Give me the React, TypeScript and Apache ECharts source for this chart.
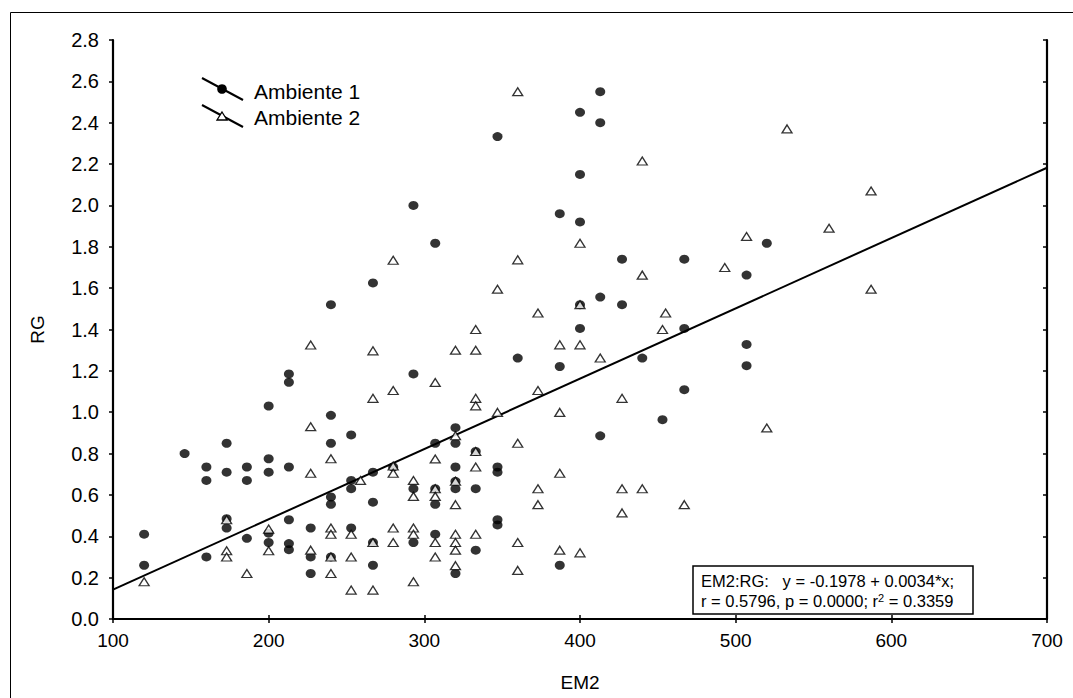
import React, { useEffect, useRef } from "react";
import * as echarts from "echarts";

// EM2 (x) and RG (y) values
const ambiente1: [number, number][] = [
  [120, 0.41], [120, 0.26], [146, 0.8], [160, 0.735], [160, 0.67], [160, 0.3],
  [173, 0.85], [173, 0.71], [173, 0.485], [173, 0.44], [186, 0.735], [186, 0.67],
  [186, 0.39], [200, 1.03], [200, 0.775], [200, 0.71], [200, 0.415], [200, 0.37],
  [213, 1.185], [213, 1.145], [213, 0.735], [213, 0.48], [213, 0.365], [213, 0.335],
  [227, 0.44], [227, 0.3], [227, 0.22], [240, 1.52], [240, 0.985], [240, 0.85],
  [240, 0.59], [240, 0.555], [240, 0.3], [253, 0.89], [253, 0.67], [253, 0.63],
  [253, 0.44], [267, 1.625], [267, 0.71], [267, 0.565], [267, 0.37], [267, 0.26],
  [280, 0.735], [293, 2.0], [293, 1.185], [293, 0.63], [293, 0.37], [307, 1.817],
  [307, 0.85], [307, 0.63], [307, 0.555], [307, 0.41], [320, 0.925], [320, 0.85],
  [320, 0.735], [320, 0.666], [320, 0.63], [320, 0.22], [333, 0.81], [333, 0.63],
  [333, 0.333], [347, 2.333], [347, 0.735], [347, 0.71], [347, 0.48], [347, 0.455],
  [360, 1.262], [387, 1.96], [387, 1.221], [387, 0.26], [400, 2.45], [400, 2.15],
  [400, 1.92], [400, 1.52], [400, 1.405], [413, 2.55], [413, 2.4], [413, 1.557],
  [413, 0.886], [427, 1.74], [427, 1.52], [440, 1.262], [453, 0.964], [467, 1.74],
  [467, 1.405], [467, 1.109], [507, 1.663], [507, 1.328], [507, 1.225], [520, 1.817],
];

const ambiente2: [number, number][] = [
  [120, 0.18], [173, 0.48], [173, 0.33], [173, 0.3], [186, 0.22], [200, 0.435],
  [200, 0.33], [227, 1.325], [227, 0.93], [227, 0.705], [227, 0.333], [240, 0.775],
  [240, 0.44], [240, 0.41], [240, 0.3], [240, 0.22], [253, 0.41], [253, 0.3],
  [253, 0.14], [259, 0.67], [267, 1.297], [267, 1.067], [267, 0.37], [267, 0.14],
  [280, 1.735], [280, 1.105], [280, 0.74], [280, 0.705], [280, 0.44], [280, 0.37],
  [293, 0.67], [293, 0.593], [293, 0.44], [293, 0.41], [293, 0.18], [307, 1.144],
  [307, 0.774], [307, 0.63], [307, 0.593], [307, 0.37], [307, 0.3], [320, 1.3],
  [320, 0.886], [320, 0.666], [320, 0.553], [320, 0.41], [320, 0.37], [320, 0.333],
  [320, 0.258], [333, 1.4], [333, 1.3], [333, 1.067], [333, 1.031], [333, 0.81],
  [333, 0.735], [333, 0.41], [347, 1.595], [347, 0.999], [360, 2.55], [360, 1.737],
  [360, 0.85], [360, 0.37], [360, 0.235], [373, 1.48], [373, 1.105], [373, 0.63],
  [373, 0.553], [387, 1.326], [387, 0.999], [387, 0.705], [387, 0.333], [400, 1.817],
  [400, 1.52], [400, 1.326], [400, 0.32], [413, 1.262], [427, 1.067], [427, 0.63],
  [427, 0.513], [440, 2.215], [440, 1.663], [440, 0.63], [453, 1.4], [455, 1.48],
  [467, 0.553], [493, 1.7], [507, 1.85], [520, 0.924], [533, 2.37], [560, 1.89],
  [587, 2.07], [587, 1.595],
];

// Regression EM2:RG  y = -0.1978 + 0.0034*x
const intercept = -0.1978;
const slope = 0.0034;
const fitRange = [100, 700];

const xMin = 100, xMax = 700, xStep = 100;
const yMin = 0, yMax = 2.8, yStep = 0.2;

const seriesNames = ["Ambiente 1", "Ambiente 2"];
const eqLine1 = "EM2:RG:   y = -0.1978 + 0.0034*x;";
const eqLine2 = "r = 0.5796, p = 0.0000; r{sup|2} = 0.3359";

const FONT = "'Liberation Sans', Arial, sans-serif";

export default function App() {
  const ref = useRef<HTMLDivElement>(null);
  useEffect(() => {
    if (!ref.current) return;
    const chart = echarts.init(ref.current, undefined, { renderer: "svg" });
    const fitData = fitRange.map((x) => [x, intercept + slope * x]);
    const axisLine = { show: true, lineStyle: { color: "#000", width: 2.2 } };
    const tick = (inside: boolean) => ({ show: true, inside, length: 4, lineStyle: { color: "#000", width: 1.5 } });
    chart.setOption({
      animation: false,
      backgroundColor: "#fff",
      textStyle: { fontFamily: FONT },
      grid: { left: 113, right: 26, top: 40, bottom: 79, containLabel: false },
      xAxis: [
        {
          type: "value", min: xMin, max: xMax, interval: xStep,
          name: "EM2", nameLocation: "middle", nameGap: 54,
          nameTextStyle: { color: "#000", fontSize: 19, fontFamily: FONT },
          axisLine, axisTick: tick(true),
          axisLabel: { color: "#000", fontSize: 19, margin: 12, fontFamily: FONT },
          splitLine: { show: false },
        },
        {
          type: "value", position: "top", min: xMin, max: xMax, interval: xStep,
          axisLine, axisTick: tick(true),
          axisLabel: { show: false },
          splitLine: { show: false },
        },
      ],
      yAxis: [
        {
          type: "value", min: yMin, max: yMax, interval: yStep,
          name: "RG", nameLocation: "middle", nameGap: 66, nameRotate: 90,
          nameTextStyle: { color: "#000", fontSize: 19, fontFamily: FONT },
          axisLine, axisTick: tick(false),
          axisLabel: { color: "#000", fontSize: 20, margin: 14, fontFamily: FONT, formatter: (v: number) => v.toFixed(1) },
          splitLine: { show: false },
        },
        {
          type: "value", position: "right", min: yMin, max: yMax, interval: yStep,
          axisLine, axisTick: tick(true),
          axisLabel: { show: false },
          splitLine: { show: false },
        },
      ],
      series: [
        {
          name: "Fit", type: "line", data: fitData, showSymbol: false, symbol: "none",
          lineStyle: { color: "#000", width: 2 }, z: 1, silent: true,
        },
        {
          name: seriesNames[0], type: "scatter", data: ambiente1,
          symbol: "circle", symbolSize: [10, 9],
          itemStyle: { color: "#000" }, z: 2,
        },
        {
          name: seriesNames[1], type: "scatter", data: ambiente2,
          symbol: "triangle", symbolSize: [10, 8],
          itemStyle: { color: "#fff", borderColor: "#000", borderWidth: 1.3 }, z: 3,
        },
      ],
      graphic: [
        {
          type: "rect", left: 8, top: 10, z: -10, silent: true,
          shape: { x: 0, y: 0, width: 1200, height: 800 },
          style: { fill: "none", stroke: "#000", lineWidth: 1 },
        },
        // legend
        { type: "line", shape: { x1: 202, y1: 78, x2: 243, y2: 100 }, style: { stroke: "#000", lineWidth: 2 }, z: 10 },
        { type: "circle", shape: { cx: 222, cy: 89, r: 4.8 }, style: { fill: "#000" }, z: 11 },
        { type: "text", x: 254, y: 91, style: { text: seriesNames[0], fill: "#000", fontSize: 21, fontFamily: FONT, verticalAlign: "middle" }, z: 11 },
        { type: "line", shape: { x1: 202, y1: 105, x2: 243, y2: 127 }, style: { stroke: "#000", lineWidth: 2 }, z: 10 },
        { type: "polygon", shape: { points: [[222, 112], [227, 120], [217, 120]] }, style: { fill: "#fff", stroke: "#000", lineWidth: 1.3 }, z: 11 },
        { type: "text", x: 254, y: 117, style: { text: seriesNames[1], fill: "#000", fontSize: 21, fontFamily: FONT, verticalAlign: "middle" }, z: 11 },
        // equation box
        {
          type: "rect", z: 20,
          shape: { x: 693, y: 566, width: 280, height: 48 },
          style: { fill: "#fff", stroke: "#000", lineWidth: 1.5 },
        },
        { type: "text", x: 701, y: 581, z: 21, style: { text: eqLine1, fill: "#000", fontSize: 16.5, fontFamily: FONT, verticalAlign: "middle" } },
        {
          type: "text", x: 701, y: 601, z: 21,
          style: {
            text: eqLine2, fill: "#000", fontSize: 16.5, fontFamily: FONT, verticalAlign: "middle",
            rich: { sup: { fontSize: 11, verticalAlign: "top", lineHeight: 18, fontFamily: FONT, fill: "#000" } },
          },
        },
      ],
    });
    return () => chart.dispose();
  }, []);
  return <div ref={ref} style={{ position: "fixed", left: 0, top: 0, width: 1073, height: 698 }} />;
}
